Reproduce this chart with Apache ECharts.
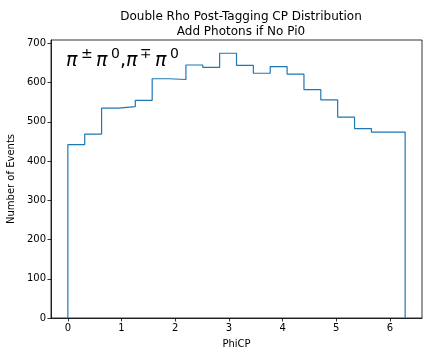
<!DOCTYPE html>
<html>
<head>
<meta charset="utf-8">
<script src="https://cdn.jsdelivr.net/npm/echarts@6/dist/echarts.min.js"></script>
<style>html,body{margin:0;padding:0;background:#fff;}#c{width:423px;height:348px;}</style>
</head>
<body>
<div id="c"></div>
<script>
// Data
const binStart = 0;
const binEnd = 2 * Math.PI;
const counts = [442, 469, 535, 539, 555, 610, 608, 645, 639, 675, 644, 624, 641, 622, 582, 556, 512, 483, 474, 474];
const xTicks = [0, 1, 2, 3, 4, 5, 6];
const yTicks = [0, 100, 200, 300, 400, 500, 600, 700];
const titleLines = ['Double Rho Post-Tagging CP Distribution', 'Add Photons if No Pi0'];

const nBins = counts.length;
const w = (binEnd - binStart) / nBins;
const pts = [[binStart, 0]];
for (let i = 0; i < nBins; i++) {
  pts.push([binStart + i * w, counts[i]]);
  pts.push([binStart + (i + 1) * w, counts[i]]);
}
pts.push([binEnd, 0]);

const xPad = (binEnd - binStart) * 0.05;
const yMax = Math.max(...counts) * 1.05;
const font = 'DejaVu Sans';

// annotation glyphs: [text, x, isSup]
const ann = [['π', 66, 0], ['±', 81, 1], ['π', 96, 0], ['0', 111, 1], [',', 120, 0], ['π', 126, 0], ['∓', 140, 1], ['π', 155, 0], ['0', 170, 1]];
const graphics = ann.map(([t, x, sup]) => ({
  type: 'text', x: x, y: sup ? 54.5 : 61,
  style: {
    text: t,
    font: (sup ? '' : (t === 'π' ? 'italic ' : '')) + (sup ? 14 : 19) + 'px "DejaVu Sans"',
    fill: '#000', textAlign: 'left', textVerticalAlign: 'middle', verticalAlign: 'middle'
  }
}));

const chart = echarts.init(document.getElementById('c'), null, {renderer: 'canvas'});
chart.setOption({
  animation: false,
  backgroundColor: '#fff',
  title: {
    text: titleLines.join('\n'),
    left: 236, textAlign: 'center', top: 4,
    textStyle: {fontFamily: font, fontSize: 12, fontWeight: 'normal', color: '#000', lineHeight: 15}
  },
  grid: {left: 51, right: 1, top: 40, bottom: 30, outerBoundsMode: 'none', containLabel: false, show: true, borderColor: '#000', borderWidth: 0.8, backgroundColor: 'transparent'},
  xAxis: {
    type: 'value', min: binStart - xPad, max: binEnd + xPad,
    name: 'PhiCP', nameLocation: 'middle', nameGap: 21,
    nameTextStyle: {fontFamily: font, fontSize: 10, color: '#000'},
    axisLine: {show: true, onZero: false, lineStyle: {color: '#000', width: 0.8}},
    axisTick: {show: true, length: 3.5, customValues: xTicks, lineStyle: {color: '#000', width: 0.8}},
    axisLabel: {customValues: xTicks, fontFamily: font, fontSize: 10, color: '#000', margin: 5, formatter: v => String(v)},
    splitLine: {show: false}
  },
  yAxis: {
    type: 'value', min: 0, max: yMax,
    name: 'Number of Events', nameLocation: 'middle', nameGap: 33, nameRotate: 90,
    nameTextStyle: {fontFamily: font, fontSize: 10, color: '#000'},
    axisLine: {show: true, onZero: false, lineStyle: {color: '#000', width: 0.8}},
    axisTick: {show: true, length: 3.5, customValues: yTicks, lineStyle: {color: '#000', width: 0.8}},
    axisLabel: {customValues: yTicks, fontFamily: font, fontSize: 10, color: '#000', margin: 5, formatter: v => String(v)},
    splitLine: {show: false}
  },
  graphic: graphics,
  series: [{
    type: 'line', data: pts, showSymbol: false, symbol: 'none',
    lineStyle: {color: '#1f77b4', width: 1.2}, clip: true
  }]
});
</script>
</body>
</html>
